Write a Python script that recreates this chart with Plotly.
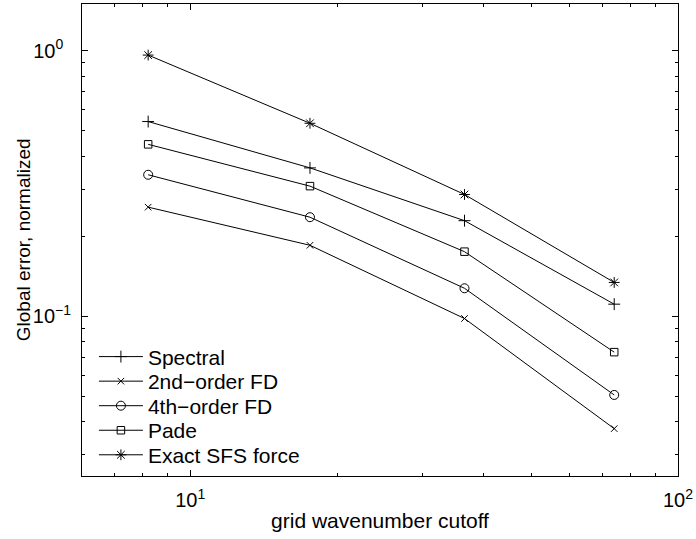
import plotly.graph_objects as go
import numpy as np

# Data
cutoff = [8.2, 17.6, 36.5, 74.0]
spectral = [0.541, 0.362, 0.229, 0.111]
fd2 = [0.2575, 0.185, 0.098, 0.0377]
fd4 = [0.341, 0.236, 0.1274, 0.0505]
pade = [0.444, 0.309, 0.175, 0.0732]
exact_sfs = [0.963, 0.533, 0.2874, 0.134]

series_names = ["Spectral", "2nd\u2212order FD", "4th\u2212order FD", "Pade", "Exact SFS force"]
series_vals = [spectral, fd2, fd4, pade, exact_sfs]
symbols = ["cross-thin-open", "x-thin-open", "circle-open", "square-open", "asterisk-open"]
msizes = [8.5, 6.5, 9, 7.5, 9]

x_ticks = [10, 100]
x_ticktext = ["10<sup>1</sup>", "10<sup>2</sup>"]
y_ticks = [0.1, 1.0]
y_ticktext = ["10<sup>\u22121</sup>", "10<sup>0\u00a0\u00a0</sup>"]
x_minor = [6, 7, 8, 9, 20, 30, 40, 50, 60, 70, 80, 90]
y_minor = [0.03, 0.04, 0.05, 0.06, 0.07, 0.08, 0.09, 0.2, 0.3, 0.4, 0.5, 0.6, 0.7, 0.8, 0.9]

FONT = "Liberation Sans, Arial, Helvetica, sans-serif"

W, H = 696, 539
ML, MR, MT, MB = 82, 16, 3, 63
plot_w = W - ML - MR
plot_h = H - MT - MB

# legend rows (pixel centres from the top of the page), one legend box per series
legend_row0 = 356.7
legend_step = 24.6
legend_ids = ["legend", "legend2", "legend3", "legend4", "legend5"]

fig = go.Figure()
for i, (name, vals, sym, ms) in enumerate(zip(series_names, series_vals, symbols, msizes)):
    fig.add_trace(go.Scatter(
        x=cutoff, y=vals, name=name, mode="lines+markers",
        line=dict(color="black", width=1),
        marker=dict(symbol=sym, size=ms, color="black",
                    line=dict(color="black", width=1)),
        legend=legend_ids[i],
    ))

legend_layouts = {}
for i, lid in enumerate(legend_ids):
    yc = legend_row0 + i * legend_step
    legend_layouts[lid] = dict(
        x=0.02, y=(H - MB - yc) / plot_h, xanchor="left", yanchor="middle",
        bgcolor="rgba(0,0,0,0)", borderwidth=0,
        font=dict(family=FONT, size=21, color="black"),
        itemwidth=44,
    )

axis_common = dict(
    type="log", showline=True, linecolor="black", linewidth=1, mirror="ticks",
    ticks="inside", ticklen=6, tickcolor="black", tickwidth=1,
    showgrid=False, zeroline=False,
    tickfont=dict(family=FONT, size=20, color="black"),
)

fig.update_layout(
    width=W, height=H,
    margin=dict(l=ML, r=MR, t=MT, b=MB),
    paper_bgcolor="white", plot_bgcolor="white",
    font=dict(family=FONT, size=20, color="black"),
    showlegend=True,
    **legend_layouts,
    xaxis=dict(
        **axis_common,
        range=[np.log10(6), 2],
        tickmode="array", tickvals=x_ticks, ticktext=x_ticktext,
        ticklabelstandoff=6,
        minor=dict(tickmode="array", tickvals=x_minor, ticks="inside",
                   ticklen=3, tickcolor="black"),
        title=dict(text="grid wavenumber cutoff", standoff=3,
                   font=dict(family=FONT, size=21)),
    ),
    yaxis=dict(
        **axis_common,
        range=[np.log10(0.025), np.log10(1.5)],
        tickmode="array", tickvals=y_ticks, ticktext=y_ticktext,
        ticklabelstandoff=6,
        minor=dict(tickmode="array", tickvals=y_minor, ticks="inside",
                   ticklen=3, tickcolor="black"),
    ),
    annotations=[dict(
        text="Global error, normalized", textangle=-90,
        xref="paper", yref="paper", x=(23 - ML) / plot_w, y=0.5,
        xanchor="center", yanchor="middle", showarrow=False,
        font=dict(family=FONT, size=19, color="black"),
    )],
)

fig.write_html("out.html")
